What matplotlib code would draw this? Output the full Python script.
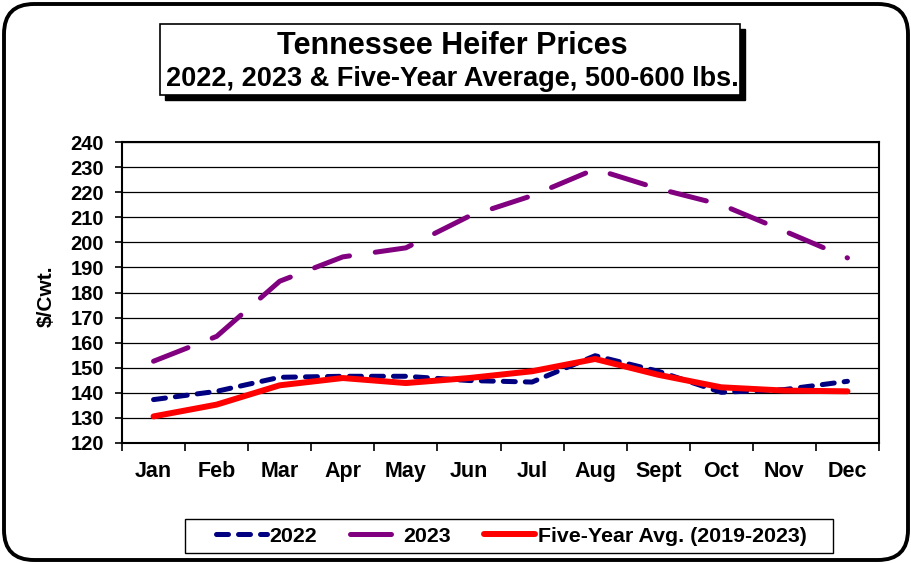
import matplotlib
matplotlib.use("Agg")
from matplotlib import pyplot as plt
from matplotlib.patches import FancyBboxPatch, Rectangle
from matplotlib.lines import Line2D
from matplotlib.transforms import IdentityTransform
import numpy as np

plt.rcParams["font.family"] = ["Liberation Sans", "DejaVu Sans"]
plt.rcParams["font.weight"] = "bold"

months = ["Jan", "Feb", "Mar", "Apr", "May", "Jun", "Jul", "Aug", "Sept", "Oct", "Nov", "Dec"]
prices_2022 = [137.3, 140.6, 146.2, 146.6, 146.6, 144.9, 144.3, 154.8, 148.6, 140.2, 141.3, 144.6]
prices_2023 = [152.6, 162.5, 184.5, 194.2, 197.8, 210.4, 218.6, 229.2, 221.4, 215.0, 204.5, 193.8]
five_year_avg = [130.6, 135.3, 143.0, 145.9, 143.9, 145.9, 148.6, 153.5, 147.2, 142.2, 140.9, 140.6]

W, H = 912, 564
fig = plt.figure(figsize=(W / 100, H / 100), dpi=100, facecolor="white")

# rounded outer frame
frame = FancyBboxPatch((4, 4), W - 8, H - 8, boxstyle="round,pad=0,rounding_size=30",
                       transform=IdentityTransform(), facecolor="none", edgecolor="black",
                       linewidth=2.8, zorder=5)
fig.patches.append(frame)

# title box with drop shadow
bx, by_top, bw, bh = 160, 24, 580, 71
shadow = Rectangle((bx + 5, H - by_top - bh - 5), bw, bh, transform=IdentityTransform(),
                   facecolor="black", edgecolor="black", zorder=1)
box = Rectangle((bx, H - by_top - bh), bw, bh, transform=IdentityTransform(),
                facecolor="white", edgecolor="black", linewidth=1.2, zorder=2)
fig.patches.extend([shadow, box])
fig.text(452 / W, 1 - 46 / H, "Tennessee Heifer Prices", ha="center", va="center",
         fontsize=22, fontweight="bold", zorder=3)
fig.text(452 / W, 1 - 79 / H, "2022, 2023 & Five-Year Average, 500-600 lbs.", ha="center",
         va="center", fontsize=19.5, fontweight="bold", zorder=3)

ax = fig.add_axes([122 / W, (H - 443) / H, (879 - 122) / W, (443 - 142) / H])
x = np.arange(len(months))

l1, = ax.plot(x, prices_2022, color="#000080", linewidth=3.6, dashes=(2.4, 2.0),
              dash_capstyle="round", label="2022", zorder=3)
l2, = ax.plot(x, prices_2023, color="#800080", linewidth=3.6, dashes=(7.4, 5.2),
              dash_capstyle="round", label="2023", zorder=3)
l3, = ax.plot(x, five_year_avg, color="#ff0000", linewidth=4.3, solid_capstyle="round",
              label="Five-Year Avg. (2019-2023)", zorder=4)

ax.set_xlim(-0.5, len(months) - 0.5)
ax.set_ylim(120, 240)
ax.set_yticks(np.arange(120, 241, 10))
ax.set_xticks(x)
ax.set_xticklabels(months, fontsize=15.5, fontweight="bold")
ax.set_xticks(np.arange(-0.5, len(months), 1), minor=True)
ax.tick_params(axis="x", which="major", length=0, pad=13)
ax.tick_params(axis="x", which="minor", length=6, width=1.2, direction="out")
ax.tick_params(axis="y", length=5, width=1.2, pad=8, labelsize=14.5)
for lab in ax.get_yticklabels():
    lab.set_fontweight("bold")
ax.grid(axis="y", color="black", linewidth=0.9)
for s in ax.spines.values():
    s.set_linewidth(1.5)
    s.set_color("black")

fig.text(46 / W, 1 - 296 / H, "$/Cwt.", rotation=90, ha="center", va="center",
         fontsize=15, fontweight="bold")

# legend box drawn separately so its padding can match
leg_box = Rectangle((185, H - 553), 833 - 185, 34, transform=IdentityTransform(),
                    facecolor="white", edgecolor="black", linewidth=1.0, zorder=1)
fig.patches.append(leg_box)
# 2023 key shows one long dash only
h2 = Line2D([], [], color="#800080", linewidth=3.6, dashes=(8.2, 6.0),
            dash_capstyle="round", label="2023")
leg = fig.legend(handles=[l1, h2, l3], loc="center", bbox_to_anchor=(511 / W, 1 - 536 / H),
                 ncol=3, frameon=False, handlelength=2.4, handletextpad=0.1,
                 columnspacing=1.55, borderpad=0.3, prop={"size": 15.4, "weight": "bold"})

fig.savefig("out.png", dpi=100)
